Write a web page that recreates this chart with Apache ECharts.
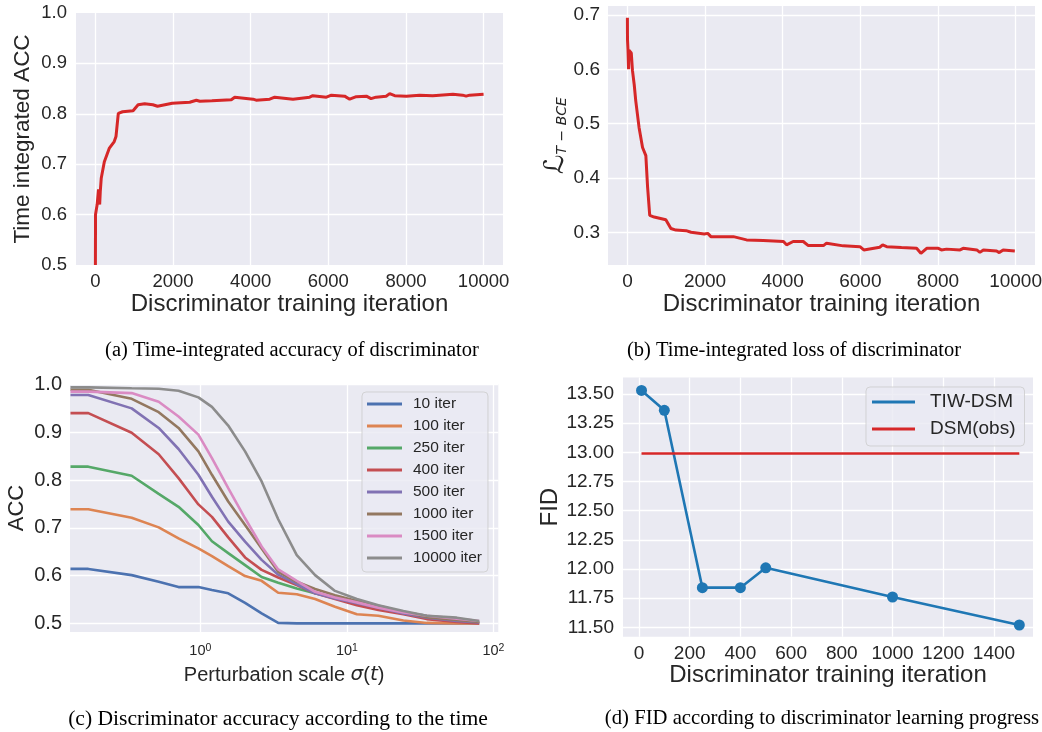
<!DOCTYPE html>
<html><head><meta charset="utf-8">
<script src="https://cdn.jsdelivr.net/npm/echarts@6.0.0/dist/echarts.min.js"></script>
<style>html,body{margin:0;padding:0;background:#fff}#main{width:1042px;height:732px}</style>
</head><body><div id="main"></div>
<script>
// ---------- (a) time-integrated accuracy ----------
const accIter = [0,3,45,80,100,110,125,150,230,360,485,530,590,700,970,1100,1270,1480,1600,1980,2200,2430,2600,2690,3000,3500,3590,4060,4140,4490,4620,5090,5520,5600,5950,6080,6420,6550,6720,6980,7100,7230,7490,7580,7710,8010,8350,8690,9040,9210,9460,9550,9640,10000];
const accVal  = [0.500,0.600,0.620,0.650,0.650,0.620,0.645,0.672,0.705,0.732,0.745,0.755,0.801,0.804,0.806,0.818,0.820,0.818,0.815,0.821,0.822,0.823,0.827,0.825,0.826,0.828,0.833,0.829,0.827,0.829,0.833,0.829,0.833,0.836,0.833,0.837,0.835,0.829,0.834,0.835,0.830,0.833,0.835,0.840,0.836,0.835,0.837,0.836,0.838,0.8386,0.837,0.835,0.837,0.839];
// ---------- (b) time-integrated loss ----------
const lossIter = [0,2,15,30,40,70,100,130,175,215,300,390,475,520,575,690,990,1120,1250,1510,1640,1980,2070,2150,2390,2730,3070,3500,4020,4100,4270,4530,4660,5050,5130,5560,5990,6090,6500,6575,6680,7060,7450,7560,7710,8010,8090,8220,8570,8650,9000,9080,9170,9510,9580,9680,9980];
const lossVal  = [0.695,0.655,0.636,0.600,0.635,0.634,0.630,0.598,0.572,0.542,0.493,0.456,0.441,0.383,0.331,0.328,0.323,0.307,0.304,0.303,0.300,0.297,0.298,0.292,0.292,0.292,0.286,0.2847,0.283,0.277,0.283,0.283,0.2755,0.2755,0.280,0.275,0.2736,0.2675,0.2724,0.2767,0.2736,0.2718,0.2705,0.2613,0.2705,0.2705,0.2675,0.269,0.2675,0.2705,0.2675,0.263,0.2675,0.2656,0.2626,0.2675,0.2656];
// ---------- (c) accuracy vs perturbation scale ----------
const sigma = [0.13,0.172,0.34,0.52,0.71,0.97,1.2,1.55,2.02,2.62,3.4,4.55,6.07,8.3,11.7,16.4,24.3,35.1,56.2,80];
const iterNames = ['10 iter','100 iter','250 iter','400 iter','500 iter','1000 iter','1500 iter','10000 iter'];
const acc10    = [0.614,0.614,0.601,0.587,0.576,0.576,0.570,0.563,0.543,0.521,0.501,0.500,0.500,0.500,0.500,0.500,0.500,0.500,0.500,0.500];
const acc100   = [0.739,0.739,0.721,0.701,0.678,0.657,0.641,0.620,0.599,0.589,0.564,0.561,0.551,0.535,0.519,0.516,0.506,0.501,0.500,0.500];
const acc250   = [0.828,0.828,0.809,0.771,0.744,0.706,0.672,0.647,0.622,0.597,0.585,0.573,0.563,0.554,0.542,0.531,0.524,0.516,0.508,0.502];
const acc400   = [0.940,0.940,0.899,0.854,0.804,0.749,0.723,0.680,0.638,0.612,0.596,0.580,0.563,0.551,0.538,0.528,0.519,0.509,0.503,0.500];
const acc500   = [0.978,0.978,0.950,0.909,0.865,0.811,0.765,0.713,0.671,0.633,0.602,0.582,0.563,0.552,0.542,0.533,0.521,0.512,0.505,0.502];
const acc1000  = [0.989,0.989,0.970,0.942,0.909,0.860,0.811,0.755,0.706,0.657,0.608,0.587,0.572,0.559,0.547,0.537,0.524,0.513,0.507,0.503];
const acc1500  = [0.985,0.985,0.982,0.964,0.933,0.895,0.846,0.783,0.720,0.661,0.613,0.589,0.566,0.554,0.544,0.533,0.523,0.516,0.510,0.505];
const acc10000 = [0.994,0.994,0.992,0.991,0.987,0.973,0.953,0.914,0.860,0.797,0.718,0.643,0.601,0.568,0.551,0.538,0.526,0.516,0.512,0.505];
// ---------- (d) FID ----------
const fidIter = [10,100,250,400,500,1000,1500];
const fidTIW  = [13.53,13.36,11.84,11.84,12.01,11.76,11.52];
const dsmIter = [10,1500];
const dsmVal  = [12.99,12.99];
// ---------- captions ----------
const captions = ['(a) Time-integrated accuracy of discriminator','(b) Time-integrated loss of discriminator','(c) Discriminator accuracy according to the time','(d) FID according to discriminator learning progress'];

const SANS = '"Liberation Sans", Arial, sans-serif';
const SERIF = '"Liberation Serif", "Times New Roman", serif';
const TXT = '#262626';
const zip = (a,b) => a.map((v,i)=>[v,b[i]]);
const stepFmt = (step, dec) => v => { const k = v/step; return Math.abs(k-Math.round(k))<1e-6 ? v.toFixed(dec) : ''; };
function grid(left, top, width, height){
  return {left, top, width, height, show:true, backgroundColor:'#EAEAF2', borderWidth:0, containLabel:false, outerBoundsMode:'none'};
}
function vAxis(gi, min, max, step, dec, fs, margin, name, nameGap, nameFs, extra){
  return Object.assign({
    type:'value', gridIndex:gi, min, max, minInterval:step, maxInterval:step,
    axisLine:{show:false}, axisTick:{show:false},
    splitLine:{show:true, showMinLine:false, showMaxLine:false, lineStyle:{color:'#ffffff', width:1.3}},
    axisLabel:{color:TXT, fontFamily:SANS, fontSize:fs, margin, formatter:stepFmt(step,dec)},
    name, nameLocation:'middle', nameGap,
    nameTextStyle:{color:TXT, fontFamily:SANS, fontSize:nameFs}
  }, extra||{});
}
const iterColors = ['#4C72B0','#DD8452','#55A868','#C44E52','#8172B3','#937860','#DA8BC3','#8C8C8C'];
const iterData = [acc10,acc100,acc250,acc400,acc500,acc1000,acc1500,acc10000];

const series = [
  {type:'line', name:'acc', xAxisIndex:0, yAxisIndex:0, data:zip(accIter,accVal), symbol:'none', clip:true,
   color:'#d62728', lineStyle:{color:'#d62728', width:3}},
  {type:'line', name:'loss', xAxisIndex:1, yAxisIndex:1, data:zip(lossIter,lossVal), symbol:'none', clip:true,
   color:'#d62728', lineStyle:{color:'#d62728', width:3}}
];
iterNames.forEach((n,i)=>series.push({type:'line', name:n, xAxisIndex:2, yAxisIndex:2, data:zip(sigma,iterData[i]), symbol:'none', clip:true,
  color:iterColors[i], lineStyle:{color:iterColors[i], width:2.6}}));
series.push({type:'line', name:'TIW-DSM', xAxisIndex:3, yAxisIndex:3, data:zip(fidIter,fidTIW), symbol:'circle', symbolSize:11,
  color:'#1f77b4', itemStyle:{color:'#1f77b4'}, lineStyle:{color:'#1f77b4', width:2.6}});
series.push({type:'line', name:'DSM(obs)', xAxisIndex:3, yAxisIndex:3, data:zip(dsmIter,dsmVal), symbol:'none',
  color:'#d62728', lineStyle:{color:'#d62728', width:2.6}});

const capPos = [[292,351,20.5],[794,351,20.5],[278,719,21.6],[822,719,20.7]];
const graphic = captions.map((t,i)=>({type:'text', x:capPos[i][0], y:capPos[i][1],
  style:{text:t, fill:'#000', font:capPos[i][2]+'px '+SERIF, fontSize:capPos[i][2], fontFamily:SERIF, align:'center', textAlign:'center', verticalAlign:'middle', textVerticalAlign:'middle'}}));

const logFmt = v => { const lg = Math.log10(v); const r = Math.round(lg); return Math.abs(lg-r)<1e-6 ? '{b|10}{s|'+r+'}' : ''; };

const option = {
  animation:false,
  backgroundColor:'#ffffff',
  grid:[grid(76,13,427,252), grid(608,5.9,427,259.2), grid(70,384,428.3,248), grid(623,377.5,410,259.3)],
  xAxis:[
    vAxis(0,-500,10500,2000,0,18.5,7,'Discriminator training iteration',25,24),
    vAxis(1,-500,10500,2000,0,19,7,'Discriminator training iteration',25,24),
    {type:'log', logBase:10, gridIndex:2, min:0.129, max:108,
     axisLine:{show:false}, axisTick:{show:false},
     splitLine:{show:true, showMinLine:false, showMaxLine:false, lineStyle:{color:'#ffffff', width:1.3}},
     axisLabel:{formatter:logFmt, margin:11, rich:{b:{fontSize:14.5, fontFamily:SANS, color:TXT}, s:{fontSize:10.5, fontFamily:SANS, color:TXT, verticalAlign:'top'}}},
     name:'{n|Perturbation scale }{i|σ}{n|(}{i|t}{n|)}', nameLocation:'middle', nameGap:33,
     nameTextStyle:{color:TXT, rich:{n:{fontSize:20, fontFamily:SANS, color:TXT}, i:{fontSize:20, fontFamily:'"DejaVu Sans"', fontStyle:'italic', color:TXT}}}},
    vAxis(3,-63,1554,200,0,19,7,'Discriminator training iteration',24,24)
  ],
  yAxis:[
    vAxis(0,0.5,1.0,0.1,1,18.5,9,'Time integrated ACC',41.5,22.5),
    vAxis(1,0.2396,0.7167,0.1,1,19,8,'{L|ℒ}{s|T − BCE}',38,26,
      {nameTextStyle:{color:TXT, rich:{L:{fontSize:27, fontFamily:'"DejaVu Sans"', color:TXT}, s:{fontSize:14, fontFamily:'"DejaVu Sans"', fontStyle:'italic', color:TXT, verticalAlign:'bottom'}}}}),
    vAxis(2,0.482,1.001,0.1,1,20,8,'ACC',41.8,22),
    vAxis(3,11.419,13.641,0.25,2,19,9,'FID',61,24)
  ],
  legend:[
    {data:iterNames, orient:'vertical', left:362, top:392, icon:'rect', itemWidth:35, itemHeight:3, itemGap:4,
     padding:[3,6,5,5], backgroundColor:'rgba(234,234,242,0.8)', borderColor:'rgba(204,204,204,0.8)', borderWidth:1, borderRadius:4,
     selectedMode:false, textStyle:{color:TXT, fontFamily:SANS, fontSize:15.5, lineHeight:18, padding:[0,0,0,6]}},
    {data:['TIW-DSM','DSM(obs)'], orient:'vertical', left:866, top:387, icon:'rect', itemWidth:43, itemHeight:3, itemGap:5,
     padding:[4,9,6,6], backgroundColor:'rgba(234,234,242,0.8)', borderColor:'rgba(204,204,204,0.8)', borderWidth:1, borderRadius:4,
     selectedMode:false, textStyle:{color:TXT, fontFamily:SANS, fontSize:19, lineHeight:22, padding:[0,0,0,10]}}
  ],
  graphic,
  series
};
const chart = echarts.init(document.getElementById('main'), null, {renderer:'canvas', width:1042, height:732});
chart.setOption(option);
</script></body></html>
